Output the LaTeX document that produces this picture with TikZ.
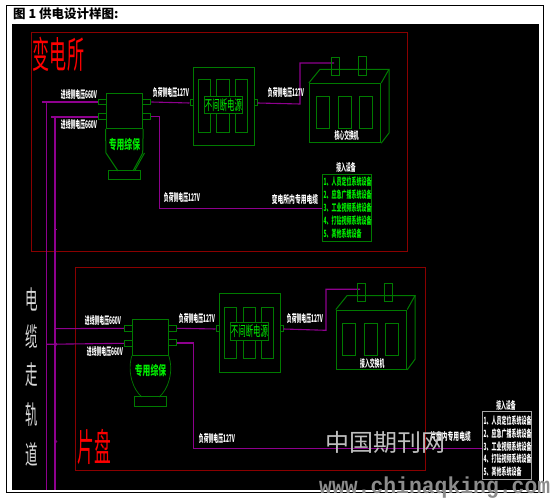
\documentclass[tikz,border=0pt]{standalone}
\usepackage{fontspec}
\setmainfont{Noto Sans CJK SC}
\newfontfamily\monow{Liberation Mono}
\definecolor{dred}{HTML}{8A0000}
\definecolor{gline}{HTML}{007A00}
\definecolor{pur}{HTML}{8E008E}
\definecolor{lgreen}{HTML}{00EE00}
\newcommand{\nt}[2]{\scalebox{#1}[1]{#2}}
\tikzset{
 redframe/.style={draw=dred,line width=.8pt},
 gbox/.style={draw=gline,line width=1pt},
 pline/.style={draw=pur,line width=1.1pt},
 smalltxt/.style={text=white,font=\bfseries\fontsize{10.5}{11}\selectfont,inner sep=0pt},
 listtxt/.style={text=lgreen,font=\bfseries\fontsize{10}{10}\selectfont,inner sep=0pt,anchor=west},
 listw/.style={text=white,font=\bfseries\fontsize{10}{10}\selectfont,inner sep=0pt,anchor=west},
 upstxt/.style={text=lgreen,font=\fontsize{14}{14}\selectfont,inner sep=0pt},
 pt/.style={inner sep=0pt,minimum size=0pt},
}
\begin{document}
\begin{tikzpicture}[x=1pt,y=-1pt]
\useasboundingbox (0,0) rectangle (550,500);
\fill[white] (0,0) rectangle (550,500);
\draw[black,line width=.8pt] (6.3,5) rectangle (543,492);
\fill[black] (12,24) rectangle (539,490);
\node[anchor=west,inner sep=0pt,font=\bfseries\fontsize{12.5}{13}\selectfont] (title) at (13,14) {图 1 供电设计样图:};
% frames
\draw[redframe] (31.5,32.3) rectangle (407.7,251.3);
\draw[redframe] (75.5,267.3) rectangle (425,470);
\node[text=red,font=\fontsize{37}{37}\selectfont,inner sep=0pt] (bds) at (58.5,54) {\nt{.46}{变电所}};
\node[text=red,font=\fontsize{38}{38}\selectfont,inner sep=0pt] (pp) at (94.5,447) {\nt{.44}{片盘}};
% coordinates for free ends
\coordinate (t1a) at (46.5,102); \coordinate (t1b) at (46.5,490);
\coordinate (t2a) at (55,117); \coordinate (t2b) at (55,490);
\coordinate (h1s) at (42,102); \coordinate (h2s) at (51,117);
% trunk
\draw[pline] (h1s) -- (98,102);
\draw[pline] (h2s) -- (98,117);
\draw[pline] (t1a) -- (t1b);
\draw[pline] (t2a) -- (t2b);
\draw[draw=pur,line width=.7pt] (55,229) -- (56.5,229);
\draw[draw=pur,line width=.7pt] (55,439.5) -- (57,441.5) -- (55,443.5);
\draw[draw=pur,line width=.7pt] (55,342) -- (57,344.3) -- (55,346.5);
% upper protection
\node[gbox,pt,minimum width=36.7pt,minimum height=35pt] (zb1) at (124.35,110.8) {};
\foreach \n/\y in {a/102,b/116.7}{
 \node[gbox,pt,minimum width=8pt,minimum height=5.7pt] (zb1l\n) at (102,\y) {};
 \node[gbox,pt,minimum width=8.3pt,minimum height=5.7pt] (zb1r\n) at (146.8,\y) {};
}
\node[gbox,pt,minimum width=32pt,minimum height=9pt] (zb1base) at (124,175.5) {};
\draw[gbox] (zb1.south west) -- (106,153) -- (118,171);
\draw[gbox] (zb1.south east) -- (142.7,153) -- (133,171);
\draw[gbox] (144.5,153) -- (134.5,171);
\node[upstxt,font=\bfseries\fontsize{13}{13}\selectfont] (zb1t) at (124.5,145) {\nt{.6}{专用综保}};
% upper UPS
\node[gbox,pt,minimum width=61pt,minimum height=78.5pt] (ups1) at (223.5,106.7) {};
\foreach \n/\x in {a/204.2,b/222.9,c/241.6}
 \node[gbox,pt,minimum width=12.4pt,minimum height=52.5pt] (ups1\n) at (\x,106.2) {};
\node[gbox,pt,minimum width=38pt,minimum height=17.3pt,fill=black] (ups1t) at (223.5,105.3) {};
\node[upstxt] at (ups1t) {\nt{.53}{不间断电源}};
\node[gbox,pt,minimum width=3pt,minimum height=6pt] (ups1l) at (191.5,103) {};
\node[gbox,pt,minimum width=3pt,minimum height=6pt] (ups1r) at (255.5,103) {};
\coordinate (sw1in) at (334,63);
\draw[pline] (zb1ra.east) -- (ups1l.west);
\draw[pline] (ups1r.east) -- (300,104) -- (300,63) -- (sw1in);
% upper switch
\node[gbox,pt,minimum width=71.4pt,minimum height=59.2pt] (sw1) at (345,113.1) {};
\draw[gbox] (sw1.north west) -- (320,69.3) -- (389,69.3) -- (sw1.north east);
\draw[gbox] (389,69.3) -- (389,133) -- (sw1.south east);
\node[gbox,pt,minimum width=8pt,minimum height=18.3pt] (sw1la) at (335.3,66.2) {};
\node[gbox,pt,minimum width=8pt,minimum height=18.7pt] (sw1lb) at (362.3,65.7) {};
\foreach \n/\x in {a/323.2,b/344.5,c/366}
 \node[gbox,pt,minimum width=13pt,minimum height=32pt] (sw1\n) at (\x,113) {};
\node[smalltxt] (sw1t) at (346.7,135.5) {\nt{.46}{核心交换机}};
% upper device list
\node[gbox,pt,minimum width=49.4pt,minimum height=67pt] (dev1) at (347,207.8) {};
\node[smalltxt] (dev1t) at (346,167) {\nt{.46}{接入设备}};
\node[listtxt] (d1a) at (323.5,181.7) {\nt{.5}{1、人员定位系统设备}};
\node[listtxt] (d1b) at (323.5,194.7) {\nt{.5}{2、应急广播系统设备}};
\node[listtxt] (d1c) at (323.5,207.7) {\nt{.5}{3、工业视频系统设备}};
\node[listtxt] (d1d) at (323.5,221) {\nt{.5}{4、打钻视频系统设备}};
\node[listtxt] (d1e) at (323.5,234) {\nt{.5}{5、其他系统设备}};
\draw[pline] (zb1rb.east) -- (159.5,116.7) -- (159.5,208.5) -- (dev1.west |- 0,208.5);
% upper labels
\node[smalltxt] (l1) at (79,95) {\nt{.46}{进线侧电压660V}};
\node[smalltxt] (l2) at (79,125) {\nt{.46}{进线侧电压660V}};
\node[smalltxt] (l3) at (171,92.5) {\nt{.46}{负荷侧电压127V}};
\node[smalltxt] (l4) at (182,197.5) {\nt{.46}{负荷侧电压127V}};
\node[smalltxt] (l5) at (286,92.5) {\nt{.46}{负荷侧电压127V}};
\node[smalltxt] (l6) at (295,199) {\nt{.55}{变电所内专用电缆}};
% lower protection
\node[gbox,pt,minimum width=36pt,minimum height=36pt] (zb2) at (150.3,337.3) {};
\node[gbox,pt,minimum width=8pt,minimum height=6pt] (zb2la) at (128.3,328.3) {};
\node[gbox,pt,minimum width=8pt,minimum height=6pt] (zb2lb) at (128.3,343.3) {};
\node[gbox,pt,minimum width=8.3pt,minimum height=6pt] (zb2ra) at (172.5,328.3) {};
\node[gbox,pt,minimum width=8.3pt,minimum height=6pt] (zb2rb) at (172.5,343) {};
\node[gbox,pt,minimum width=32.4pt,minimum height=9.7pt] (zb2base) at (150.5,401.8) {};
\draw[draw=gline,line width=.7pt] (zb2.south west) .. controls (127,372) and (133,390) .. (142,397);
\draw[draw=gline,line width=.7pt] (zb2.south east) .. controls (174,372) and (168,390) .. (159,397);
\node[upstxt,font=\bfseries\fontsize{13}{13}\selectfont] (zb2t) at (150.5,371) {\nt{.6}{专用综保}};
\coordinate (t2m) at (55,328.7);
\coordinate (t1m) at (46.5,344.3);
\draw[pline] (t2m) -- (zb2la.west);
\draw[pline] (t1m) -- (zb2lb.west);
% lower UPS
\node[gbox,pt,minimum width=61pt,minimum height=78.6pt] (ups2) at (249.8,333) {};
\foreach \n/\x in {a/230.5,b/249.3,c/267.7}
 \node[gbox,pt,minimum width=12.5pt,minimum height=51.4pt] (ups2\n) at (\x,333) {};
\node[gbox,pt,minimum width=38.4pt,minimum height=18pt,fill=black] (ups2t) at (249.5,331.3) {};
\node[upstxt] at (ups2t) {\nt{.53}{不间断电源}};
\node[gbox,pt,minimum width=3pt,minimum height=6pt] (ups2l) at (217.5,329) {};
\node[gbox,pt,minimum width=3pt,minimum height=6pt] (ups2r) at (281.5,329) {};
\coordinate (sw2in) at (360,289.3);
\draw[pline] (zb2ra.east) -- (ups2l.west);
\draw[pline] (ups2r.east) -- (326,330.3) -- (326,289.3) -- (sw2in);
% lower switch
\node[gbox,pt,minimum width=70.4pt,minimum height=59.3pt] (sw2) at (371.5,339.7) {};
\draw[gbox] (sw2.north west) -- (347,295.7) -- (415,295.7) -- (sw2.north east);
\draw[gbox] (415,295.7) -- (415,359.3) -- (sw2.south east);
\node[gbox,pt,minimum width=8pt,minimum height=18.3pt] (sw2la) at (361.3,292.5) {};
\node[gbox,pt,minimum width=8pt,minimum height=18.3pt] (sw2lb) at (388.3,292.5) {};
\foreach \n/\x in {a/349.3,b/370.6,c/392}
 \node[gbox,pt,minimum width=13pt,minimum height=32.3pt] (sw2\n) at (\x,339.2) {};
\node[smalltxt] (sw2t) at (372.3,363) {\nt{.46}{接入交换机}};
% lower device list
\node[draw=gray!70,line width=1pt,pt,minimum width=49.4pt,minimum height=67.6pt] (dev2) at (507,445.5) {};
\node[smalltxt] (dev2t) at (506,405.5) {\nt{.46}{接入设备}};
\node[listw] (d2a) at (483.5,421) {\nt{.5}{1、人员定位系统设备}};
\node[listw] (d2b) at (483.5,433.7) {\nt{.5}{2、应急广播系统设备}};
\node[listw] (d2c) at (483.5,447) {\nt{.5}{3、工业视频系统设备}};
\node[listw] (d2d) at (483.5,459) {\nt{.5}{4、打钻视频系统设备}};
\node[listw] (d2e) at (483.5,472) {\nt{.5}{5、其他系统设备}};
\draw[pline] (zb2rb.east) -- (193.5,343) -- (193.5,448.7) -- (dev2.west |- 0,448.7);
% lower labels
\node[smalltxt] (l7) at (103,320.5) {\nt{.46}{进线侧电压660V}};
\node[smalltxt] (l8) at (105,351.5) {\nt{.46}{进线侧电压660V}};
\node[smalltxt] (l9) at (197,319) {\nt{.46}{负荷侧电压127V}};
\node[smalltxt] (l10) at (217,439) {\nt{.46}{负荷侧电压127V}};
\node[smalltxt] (l11) at (305,319) {\nt{.46}{负荷侧电压127V}};
\node[smalltxt,anchor=east] (l12) at (471,436.5) {\nt{.55}{片盘内专用电缆}};
% cable track
\foreach \n/\t/\y in {a/电/299,b/缆/337,c/走/375,d/轨/415,e/道/454}
 \node[text=white!85!black,font=\fontsize{26}{26}\selectfont,inner sep=0pt] (tr\n) at (32,\y) {\nt{.48}{\t}};
% watermarks
\node[text=white!75!black,font=\fontsize{24}{24}\selectfont,inner sep=0pt] (wm1) at (385,442) {中国期刊网};
\node[text=gray!90,font=\monow\bfseries\fontsize{23}{23}\selectfont,inner sep=0pt,anchor=west] (wm2) at (319,488) {\nt{.93}{www.chinaqking.com}};
\end{tikzpicture}
\end{document}
